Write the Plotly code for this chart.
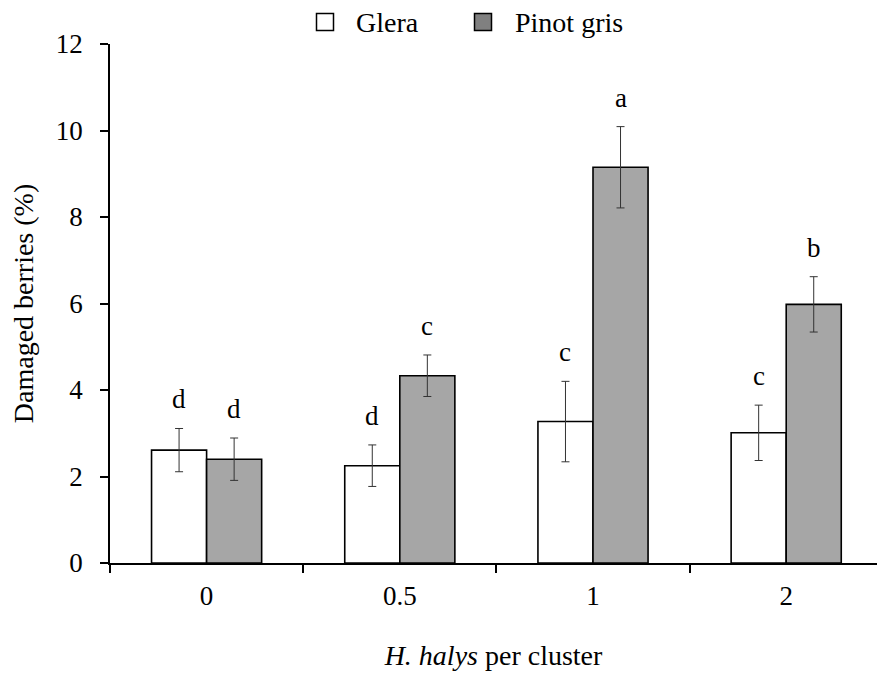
import plotly.graph_objects as go

# Damaged berries by H. halys density, two grape cultivars
categories = ["0", "0.5", "1", "2"]
glera_mean = [2.61, 2.25, 3.27, 3.01]
glera_se = [0.50, 0.48, 0.93, 0.64]
glera_letters = ["d", "d", "c", "c"]
pinot_mean = [2.40, 4.33, 9.15, 5.98]
pinot_se = [0.49, 0.48, 0.94, 0.64]
pinot_letters = ["d", "c", "a", "b"]

FONT = "Liberation Serif"
FS = 28
TICK_FS = 27
W, H = 877, 674
ML, MR, MT, MB = 110, 0, 44, 111
BARGAP = 0.43
X_RANGE = [-0.5, 3.47]

fig = go.Figure()
err_style = dict(type="data", thickness=1, width=4, color="#333333")
fig.add_trace(go.Bar(
    x=categories, y=glera_mean, name="Glera",
    marker=dict(color="white", line=dict(color="black", width=1.6)),
    error_y=dict(array=glera_se, **err_style), showlegend=False,
))
fig.add_trace(go.Bar(
    x=categories, y=pinot_mean, name="Pinot gris",
    marker=dict(color="#a6a6a6", line=dict(color="black", width=1.6)),
    error_y=dict(array=pinot_se, **err_style), showlegend=False,
))

# significance letters above each error bar (x given as category index)
plot_w = W - ML - MR
px_per_cat = plot_w / (X_RANGE[1] - X_RANGE[0])
bar_px = px_per_cat * (1 - BARGAP) / 2
annotations = []
for means, ses, letters, sign in [(glera_mean, glera_se, glera_letters, -1),
                                  (pinot_mean, pinot_se, pinot_letters, 1)]:
    for i, (m, s, t) in enumerate(zip(means, ses, letters)):
        annotations.append(dict(
            x=i, y=m + s, text=t, showarrow=False,
            xshift=sign * bar_px / 2, yshift=29, yanchor="middle",
            font=dict(family=FONT, size=TICK_FS, color="black"),
        ))

# legend drawn as boxes with labels above the plot
plot_h = H - MT - MB
def px_to_paper(px, py):
    return (px - ML) / plot_w, (H - MB - py) / plot_h

shapes = []
for cx, fill, label, tx in [(325, "white", "Glera", 354), (483, "#808080", "Pinot gris", 513)]:
    x0, y0 = px_to_paper(cx - 8.5, 30.5)
    x1, y1 = px_to_paper(cx + 8.5, 13.5)
    shapes.append(dict(type="rect", xref="paper", yref="paper",
                       x0=x0, y0=y0, x1=x1, y1=y1,
                       fillcolor=fill, line=dict(color="black", width=1.5)))
    ax, ay = px_to_paper(tx, 22)
    annotations.append(dict(x=ax, y=ay, xref="paper", yref="paper", text=label,
                            showarrow=False, xanchor="left", yanchor="middle",
                            font=dict(family=FONT, size=FS, color="black")))

fig.update_layout(
    width=W, height=H,
    margin=dict(l=ML, r=MR, t=MT, b=MB),
    paper_bgcolor="white", plot_bgcolor="white",
    barmode="group", bargap=BARGAP, bargroupgap=0,
    font=dict(family=FONT, size=FS, color="black"),
    annotations=annotations, shapes=shapes,
    xaxis=dict(
        type="category", range=X_RANGE,
        showline=True, linecolor="black", linewidth=1.5,
        ticks="outside", tickson="boundaries", ticklen=8, tickwidth=1.5, tickcolor="black",
        showgrid=False, zeroline=False, ticklabelstandoff=8,
        tickfont=dict(family=FONT, size=TICK_FS),
        title=dict(text="<i>H. halys</i> per cluster", standoff=35,
                   font=dict(family=FONT, size=FS)),
    ),
    yaxis=dict(
        range=[0, 12], dtick=2,
        showline=True, linecolor="black", linewidth=1.5,
        ticks="outside", ticklen=8, tickwidth=1.5, tickcolor="black",
        showgrid=False, zeroline=False, ticklabelstandoff=12,
        tickfont=dict(family=FONT, size=TICK_FS),
        title=dict(text="Damaged berries (%)", standoff=14,
                   font=dict(family=FONT, size=FS)),
    ),
)

fig.write_html("out.html")
